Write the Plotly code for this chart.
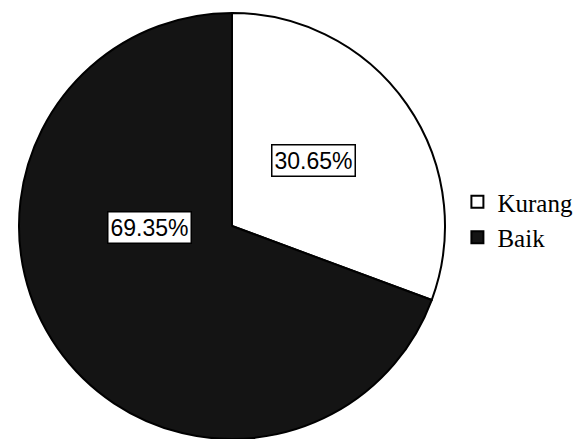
import plotly.graph_objects as go

categories = ["Kurang", "Baik"]
values = [30.65, 69.35]
colors = ["#ffffff", "#141414"]

R = 213
CX = 232
fig = go.Figure()
fig.add_trace(go.Pie(
    labels=categories,
    values=values,
    sort=False,
    direction="clockwise",
    rotation=0,
    marker=dict(colors=colors, line=dict(color="#000000", width=2)),
    textinfo="none",
    hoverinfo="label+percent",
    domain=dict(x=[(CX - R) / 579, (CX + R) / 579], y=[0, 2 * R / 439]),
))

label_pos = [(313, 161), (149, 227)]
for (px, py), v, c in zip(label_pos, values, categories):
    fig.add_annotation(
        x=px / 579, y=1 - py / 439, xref="paper", yref="paper",
        xanchor="center", yanchor="middle",
        text=f"{v:.2f}%", showarrow=False,
        font=dict(family="Liberation Sans, Arial, sans-serif", size=23, color="#000"),
        bgcolor="#ffffff", bordercolor="#000000", borderwidth=1.5, borderpad=2,
    )

fig.update_layout(
    width=579, height=439,
    margin=dict(l=0, r=0, t=0, b=0),
    paper_bgcolor="#ffffff",
    plot_bgcolor="#ffffff",
    showlegend=True,
    legend=dict(
        x=0.79, y=0.5, xanchor="left", yanchor="middle",
        font=dict(family="Liberation Serif, Times New Roman, serif", size=25, color="#000"),
        bgcolor="rgba(0,0,0,0)", tracegroupgap=0, itemwidth=30,
    ),
)

fig.write_html("out.html")
